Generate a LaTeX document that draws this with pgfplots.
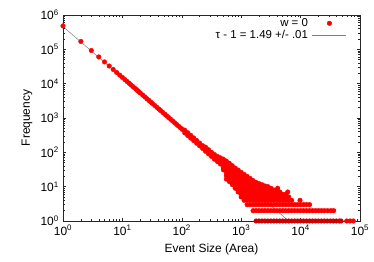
\documentclass[border=0pt]{standalone}
\usepackage{fontspec}
\setmainfont{Liberation Sans}
\usepackage{pgfplots}
\usepackage{pgfplotstable}
\pgfplotsset{compat=1.18}
\pgfplotstableread{
s f
1 480000
2 169700
3 92380
4 60000
5 42930
6 32660
7 25920
8 21210
9 17780
10 15180
11 13158
12 11547
13 10241
14 9164
15 8263
16 7500
17 6848
18 6285
19 5796
20 5367
22 4652
24 4082
26 3621
28 3240
30 2921
32 2652
35 2318
38 2049
41 1828
44 1645
48 1443
52 1280
56 1145
60 1033
65 916
70 820
76 724
82 646
88 581
95 518
102 466
112.2 441.6
112.2 367.3
125.9 371.5
125.9 309.0
141.3 312.6
141.3 260.0
158.5 263.0
158.5 218.8
177.8 221.3
177.8 184.1
199.5 186.2
199.5 154.9
223.9 156.7
223.9 130.3
251.2 141.3
251.2 120.2
251.2 107.2
281.8 118.9
281.8 101.2
281.8 90.2
316.2 100
316.2 85.1
316.2 75.9
354.8 86.1
354.8 71.6
354.8 63.1
398.1 75.9
398.1 63.1
398.1 53.7
446.7 69.2
446.7 58.9
446.7 50.1
446.7 45.7
501.2 63.1
501.2 52.5
501.2 43.7
501.2 36.3
501.2 30.9
562.3 55.6
562.3 45.7
562.3 37.6
562.3 30.9
562.3 25.4
562.3 20.9
562.3 16.6
631.0 47.9
631.0 39.8
631.0 33.1
631.0 27.5
631.0 22.9
631.0 19.1
631.0 15.8
631.0 14.1
707.9 40.7
707.9 33.9
707.9 28.2
707.9 23.4
707.9 19.5
707.9 16.2
707.9 13.5
707.9 11.5
794.3 34.7
794.3 28.8
794.3 24.0
794.3 20.0
794.3 16.6
794.3 13.8
794.3 11.5
794.3 10
794.3 9
891.3 30.2
891.3 25.1
891.3 20.9
891.3 17.4
891.3 14.5
891.3 12.0
891.3 10
891.3 9
891.3 8
891.3 7
1000 26
1000 22
1000 18
1000 15
1000 12.5
1000 10.5
1000 9
1000 8
1000 7
1000 6
1000 5
1122 22.7
1122 19
1122 16
1122 13.5
1122 11.3
1122 10
1122 9
1122 8
1122 7
1122 6
1122 5
1122 4
1259 19.9
1259 16.6
1259 14
1259 11.7
1259 10
1259 9
1259 8
1259 7
1259 6
1259 5
1259 4
1259 3
1413 17.3
1413 14.5
1413 12
1413 10
1413 9
1413 8
1413 7
1413 6
1413 5
1413 4
1413 3
1585 15
1585 12.5
1585 10.5
1585 9
1585 8
1585 7
1585 6
1585 5
1585 4
1585 3
1585 2
1778 13.3
1778 11.2
1778 10
1778 9
1778 8
1778 7
1778 6
1778 5
1778 4
1778 3
1778 2
1995 12.3
1995 10.5
1995 9
1995 8
1995 7
1995 6
1995 5
1995 4
1995 3
1995 2
2239 11.4
2239 10
2239 9
2239 8
2239 7
2239 6
2239 5
2239 4
2239 3
2239 2
2512 10.5
2512 9
2512 8
2512 7
2512 6
2512 5
2512 4
2512 3
2512 2
2818 10
2818 9
2818 8
2818 7
2818 6
2818 5
2818 4
2818 3
2818 2
3162 9
3162 8
3162 7
3162 6
3162 5
3162 4
3162 3
3162 2
3548 8
3548 7
3548 6
3548 5
3548 4
3548 3
3548 2
3981 8
3981 7
3981 6
3981 5
3981 4
3981 3
3981 2
4115 9
4467 7
4467 6
4467 5
4467 4
4467 3
4467 2
5012 6
5012 5
5012 4
5012 3
5012 2
5623 6
5623 5
5623 4
5623 3
5623 2
6070 7
6310 5
6310 4
6310 3
6310 2
7079 4
7079 3
7079 2
7943 3
7943 2
8913 3
8913 2
9770 4
10000 3
10000 2
11220 3
11220 2
12589 3
12589 2
14125 3
14125 2
15849 2
17783 2
19953 2
22387 2
25119 2
28510 2
32359 2
35975 2
59704 1
67920 1
77090 1
}\mainpts
\pgfplotstableread{
s f
1778 1
1995 1
2239 1
2512 1
2818 1
3162 1
3548 1
3981 1
4467 1
5012 1
5623 1
6310 1
7079 1
7943 1
8913 1
10000 1
11220 1
12589 1
14125 1
15849 1
17783 1
19953 1
22387 1
25119 1
28184 1
31623 1
35481 1
39811 1
44668 1
47863 1
}\onepts
\begin{document}
\fontsize{12pt}{14pt}\selectfont
\begin{tikzpicture}
\path[use as bounding box] (-63bp,-41bp) rectangle (311bp,221bp);
\begin{axis}[
  at={(0,0)}, anchor=south west,
  scale only axis, width=297bp, height=206bp,
  xmode=log, ymode=log,
  xmin=1, xmax=1e5, ymin=1, ymax=1e6,
  xtick={1,10,100,1000,10000,100000},
  xticklabels={10\textsuperscript{0},10\textsuperscript{1},10\textsuperscript{2},10\textsuperscript{3},10\textsuperscript{4},10\textsuperscript{5}},
  ytick={1,10,100,1000,10000,100000,1000000},
  yticklabels={10\textsuperscript{0},10\textsuperscript{1},10\textsuperscript{2},10\textsuperscript{3},10\textsuperscript{4},10\textsuperscript{5},10\textsuperscript{6}},
  minor xtick={2,3,4,5,6,7,8,9,20,30,40,50,60,70,80,90,200,300,400,500,600,700,800,900,2000,3000,4000,5000,6000,7000,8000,9000,20000,30000,40000,50000,60000,70000,80000,90000},
  minor ytick={2,3,4,5,6,7,8,9,20,30,40,50,60,70,80,90,200,300,400,500,600,700,800,900,2000,3000,4000,5000,6000,7000,8000,9000,20000,30000,40000,50000,60000,70000,80000,90000,200000,300000,400000,500000,600000,700000,800000,900000},
  tick align=inside,
  major tick length=3bp, minor tick length=1.6bp,
  axis line style={black!85, line width=0.7pt},
  every tick/.style={black!85, line width=0.5pt},
  tick label style={font=\fontsize{12pt}{14pt}\selectfont},
  label style={font=\fontsize{12pt}{14pt}\selectfont},
  xlabel={Event Size (Area)}, ylabel={Frequency},
  clip=false, axis on top,
  legend style={draw=none, fill=none, font=\fontsize{11.5pt}{13pt}\selectfont,
    at={(0.966,1.0)}, anchor=north east, nodes={inner sep=1.2bp}, column sep=3bp},
  legend cell align=right,
  legend plot pos=right,
  legend image code/.code={\draw[mark repeat=2,mark phase=2,#1] plot coordinates {(0cm,0cm) (0.6cm,0cm) (1.2cm,0cm)};},
]
\addplot[only marks, mark=*, mark size=2.3bp, color=red] table[x=s,y=f] {\mainpts};
\addlegendentry{w = 0}
\addplot[only marks, mark=*, mark size=2.3bp, color=red!80!black, forget plot] table[x=s,y=f] {\onepts};
\addplot[black!50, line width=0.5bp] coordinates {(1,460000) (6310,1)};
\addlegendentry{τ - 1 = 1.49 +/- .01}
\end{axis}
\end{tikzpicture}
\end{document}
